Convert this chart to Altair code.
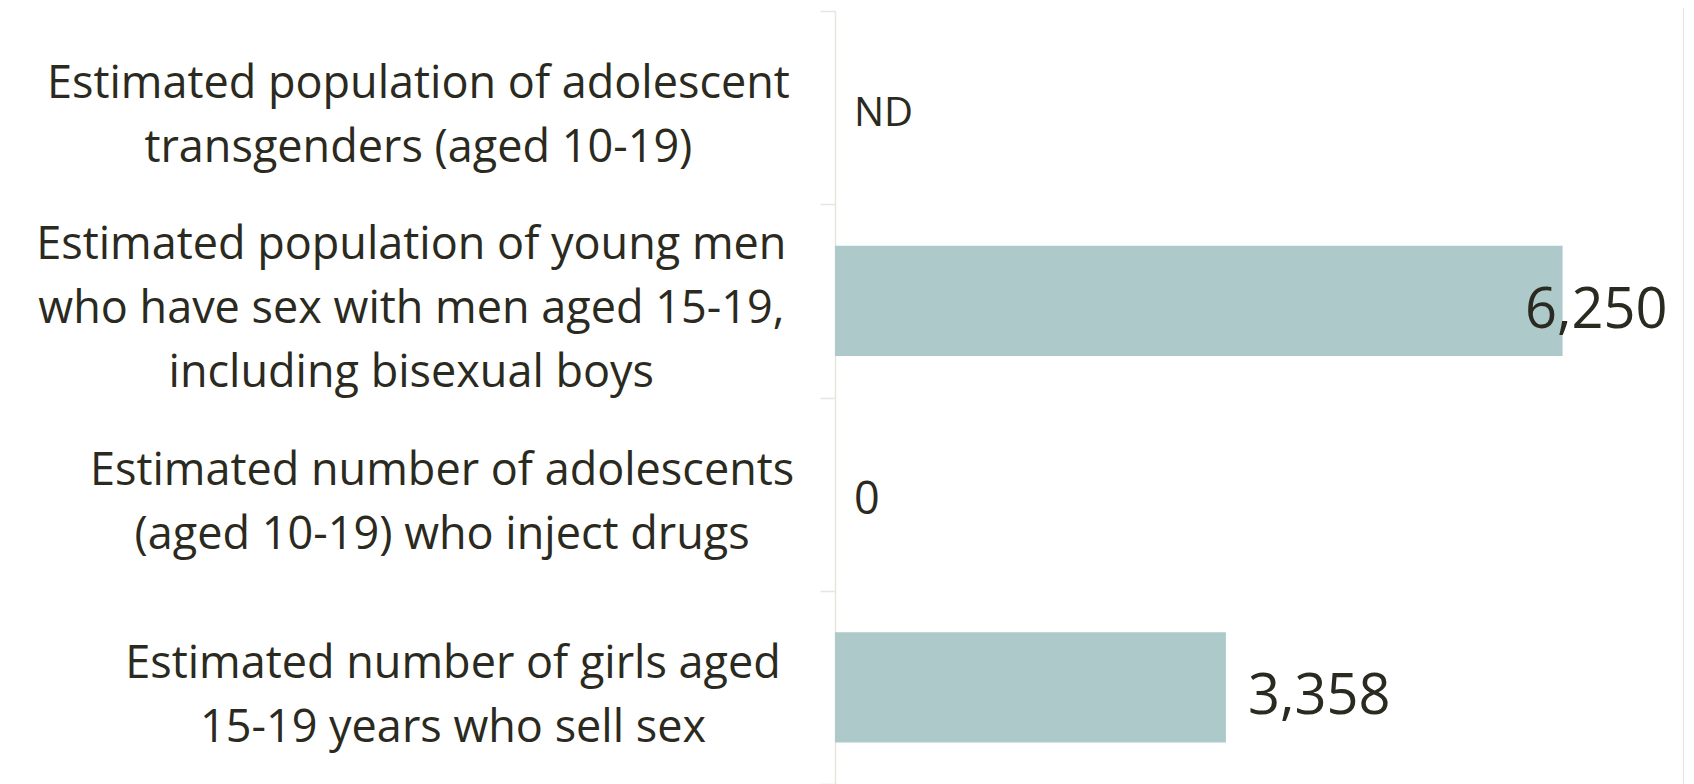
import altair as alt
import pandas as pd

categories = [
    "Estimated population of adolescent\ntransgenders (aged 10-19)",
    "Estimated population of young men\nwho have sex with men aged 15-19,\nincluding bisexual boys",
    "Estimated number of adolescents\n(aged 10-19) who inject drugs",
    "Estimated number of girls aged\n15-19 years who sell sex",
]
values = [None, 6250, 0, 3358]

df = pd.DataFrame({"category": categories, "value": values})

FONT = "Open Sans"
TEXT = "#2b2a20"
BAR = "#adc9ca"
AXIS = "#e6e6de"

W, H = 849, 773
LABEL_SIZE = 45
LINE_H = 64
CHAR_W = 21.8
WIDE_W = 18


def est(i):
    line = f"datum.lines[{i}]"
    return (
        f"(length(datum.lines) > {i} ? {CHAR_W} * length({line}) + "
        f"{WIDE_W} * (length(replace({line}, /[^mw]/g, '')) - 1) : 0)"
    )


y_scale = alt.Scale(paddingInner=0, paddingOuter=0)

y_enc = alt.Y(
    "category:N",
    sort=categories,
    scale=y_scale,
    axis=alt.Axis(
        title=None,
        labels=False,
        domainColor=AXIS,
        domainWidth=1.5,
        tickColor=AXIS,
        tickWidth=1.5,
        tickSize=15,
        tickBand="extent",
    ),
)

x_scale = alt.Scale(domain=[0, 7293], nice=False)

base = alt.Chart(df)

bars = base.mark_bar(color=BAR, height=alt.RelativeBandSize(0.57)).encode(
    x=alt.X("value:Q", scale=x_scale, axis=None),
    y=y_enc,
)

values_text = base.transform_calculate(
    lx="datum.value == null ? 0 : datum.value",
    txt="datum.value == null ? 'ND' : format(datum.value, ',')",
).mark_text(
    baseline="middle",
    font=FONT,
    color=TEXT,
    fontSize=alt.ExprRef("datum.value == null ? 40 : (datum.value > 0 ? 56 : 45)"),
    align=alt.ExprRef("datum.lx > 6000 ? 'right' : 'left'"),
    dx=alt.ExprRef("datum.lx > 6000 ? 105 : (datum.lx > 0 ? 22 : 19)"),
    dy=alt.ExprRef("datum.lx > 0 ? 10 : 6"),
).encode(
    x=alt.X("lx:Q", scale=x_scale, axis=None),
    y=y_enc,
    text="txt:N",
)

cat_text = base.transform_calculate(
    lines="split(datum.category, '\\n')",
).transform_calculate(
    n="length(datum.lines)",
    maxw=f"max({est(0)}, {est(1)}, {est(2)})",
).mark_text(
    align="center",
    baseline="middle",
    font=FONT,
    fontSize=LABEL_SIZE,
    color=TEXT,
    lineHeight=LINE_H,
    dx=alt.ExprRef("-datum.maxw / 2"),
    dy=alt.ExprRef(f"8.5 - (datum.n - 1) * {LINE_H / 2}"),
).encode(
    x=alt.value(-46),
    y=y_enc,
    text="lines:N",
)

frame = alt.Chart(df).mark_rule(color=AXIS, strokeWidth=1.5).encode(
    x=alt.value(W), y=alt.value(-11), y2=alt.value(H)
)

chart = (
    alt.layer(bars, values_text, cat_text, frame)
    .properties(
        width=W,
        height=H,
        autosize=alt.AutoSizeParams(type="none"),
        padding={"left": 827, "top": 3, "right": 0, "bottom": 0},
    )
    .configure(background="white", view=alt.ViewConfig(strokeWidth=0, stroke="transparent"))
)

chart.save("out.html", embed_options={"renderer": "svg", "actions": False})
